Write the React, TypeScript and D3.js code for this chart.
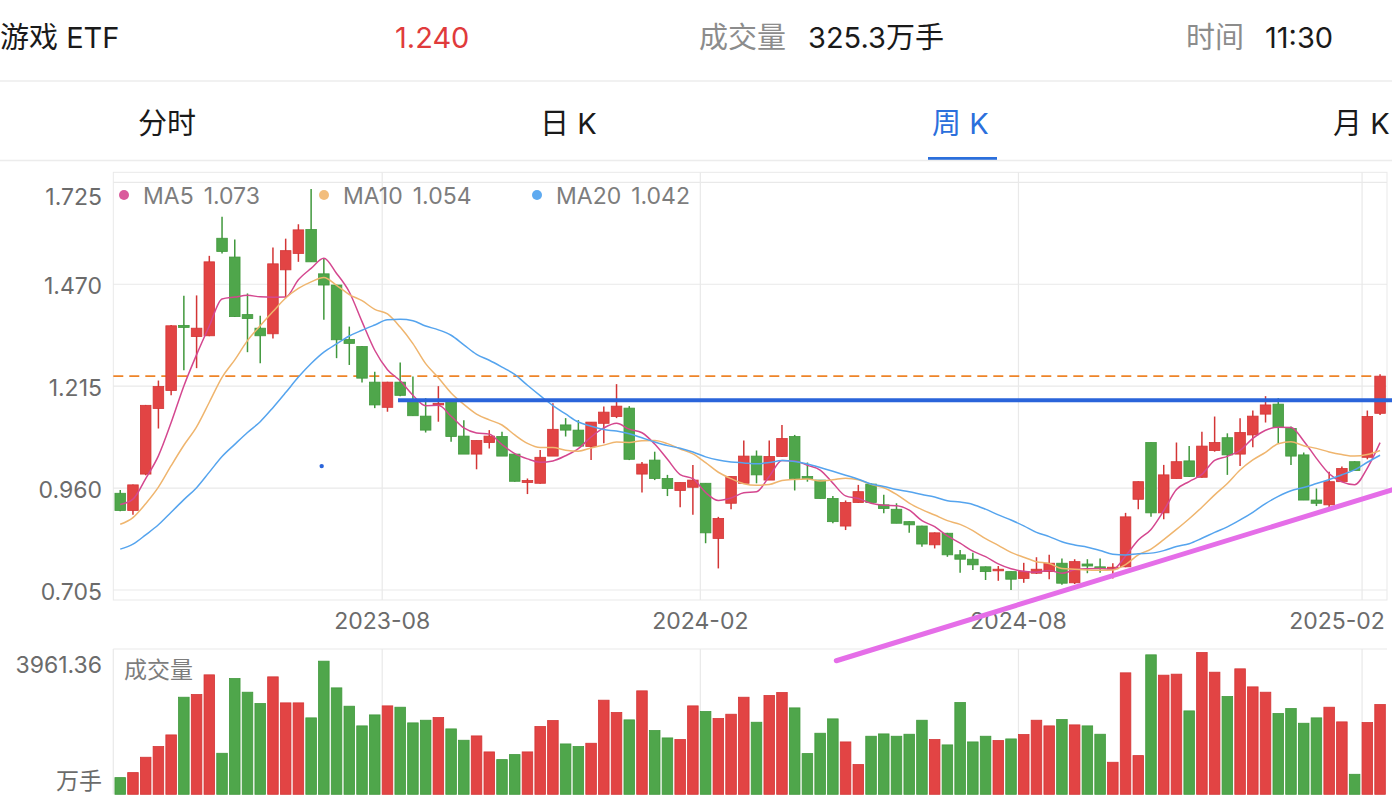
import React from "react";
import * as d3 from "d3";

// ---- data (weekly K, 游戏ETF) ----
const opens = [
  0.947, 0.904, 0.995, 1.159, 1.204, 1.367, 1.339, 1.341, 1.585, 1.538,
  1.394, 1.36, 1.346, 1.506, 1.547, 1.607, 1.496, 1.468, 1.332, 1.314,
  1.225, 1.162, 1.225, 1.18, 1.14, 1.168, 1.18, 1.09, 1.045, 1.074,
  1.089, 1.045, 0.974, 0.972, 1.04, 1.118, 1.105, 1.064, 1.122, 1.139,
  1.16, 0.995, 1.03, 0.984, 0.954, 0.962, 0.972, 0.834, 0.922, 0.972,
  1.04, 0.98, 1.039, 1.089, 0.989, 0.98, 0.934, 0.865, 0.924, 0.97,
  0.918, 0.907, 0.876, 0.865, 0.818, 0.847, 0.793, 0.782, 0.763, 0.753,
  0.751, 0.734, 0.747, 0.751, 0.772, 0.723, 0.77, 0.763, 0.758, 0.763,
  0.932, 1.074, 0.898, 0.984, 1.028, 0.987, 1.054, 1.086, 1.045, 1.093,
  1.145, 1.17, 1.109, 1.043, 0.93, 0.918, 0.976, 1.026, 1.037, 1.147,
];
const highs = [
  0.955, 0.969, 1.168, 1.229, 1.368, 1.441, 1.442, 1.541, 1.639, 1.582,
  1.447, 1.391, 1.562, 1.584, 1.62, 1.708, 1.535, 1.469, 1.364, 1.315,
  1.251, 1.226, 1.274, 1.239, 1.185, 1.215, 1.182, 1.13, 1.079, 1.105,
  1.101, 1.045, 0.984, 1.055, 1.172, 1.135, 1.13, 1.125, 1.164, 1.22,
  1.165, 1.025, 1.051, 0.993, 0.974, 1.018, 0.972, 0.888, 0.989, 1.079,
  1.054, 1.079, 1.118, 1.093, 1.024, 0.98, 0.94, 0.929, 0.968, 0.972,
  0.943, 0.922, 0.877, 0.866, 0.849, 0.848, 0.805, 0.798, 0.764, 0.765,
  0.751, 0.773, 0.787, 0.793, 0.784, 0.782, 0.782, 0.784, 0.772, 0.898,
  0.977, 1.074, 1.018, 1.074, 1.065, 1.101, 1.139, 1.097, 1.135, 1.154,
  1.19, 1.185, 1.114, 1.049, 0.959, 1.001, 1.014, 1.027, 1.154, 1.245,
];
const lows = [
  0.902, 0.893, 0.992, 1.109, 1.192, 1.255, 1.26, 1.34, 1.547, 1.388,
  1.3, 1.272, 1.334, 1.435, 1.526, 1.526, 1.381, 1.285, 1.268, 1.224,
  1.16, 1.151, 1.19, 1.141, 1.099, 1.126, 1.076, 1.045, 1.007, 1.059,
  1.04, 0.976, 0.945, 0.971, 1.04, 1.089, 1.065, 1.03, 1.072, 1.135,
  1.03, 0.949, 0.98, 0.94, 0.912, 0.893, 0.822, 0.759, 0.907, 0.97,
  0.972, 0.98, 1.038, 0.954, 0.976, 0.934, 0.872, 0.855, 0.923, 0.924,
  0.897, 0.872, 0.848, 0.813, 0.809, 0.788, 0.748, 0.755, 0.73, 0.728,
  0.705, 0.723, 0.745, 0.732, 0.718, 0.72, 0.747, 0.748, 0.734, 0.762,
  0.907, 0.888, 0.882, 0.984, 0.988, 0.986, 1.051, 0.993, 1.015, 1.062,
  1.124, 1.072, 1.018, 0.93, 0.915, 0.905, 0.975, 1.004, 1.032, 1.143,
];
const closes = [
  0.904, 0.968, 1.167, 1.214, 1.366, 1.362, 1.36, 1.526, 1.552, 1.389,
  1.384, 1.341, 1.521, 1.554, 1.606, 1.526, 1.468, 1.331, 1.322, 1.235,
  1.168, 1.225, 1.192, 1.141, 1.105, 1.172, 1.089, 1.045, 1.079, 1.09,
  1.04, 0.977, 0.979, 1.037, 1.107, 1.105, 1.065, 1.125, 1.15, 1.165,
  1.032, 1.02, 0.984, 0.959, 0.974, 0.98, 0.848, 0.884, 0.989, 1.04,
  0.993, 1.039, 1.084, 0.984, 0.984, 0.934, 0.876, 0.924, 0.951, 0.924,
  0.909, 0.872, 0.868, 0.82, 0.848, 0.793, 0.782, 0.768, 0.751, 0.757,
  0.732, 0.751, 0.757, 0.772, 0.722, 0.776, 0.765, 0.759, 0.762, 0.888,
  0.976, 0.898, 0.993, 1.026, 0.989, 1.065, 1.074, 1.043, 1.099, 1.14,
  1.168, 1.112, 1.04, 0.93, 0.922, 0.976, 1.009, 1.004, 1.139, 1.24,
];
// weekly closes before the visible window (estimated from the MA lines' start)
const priorCloses = [
  0.72, 0.7, 0.71, 0.74, 0.73, 0.76, 0.75, 0.77, 0.78, 0.79,
  0.8, 0.82, 0.8, 0.83, 0.85, 0.9, 0.91, 0.93, 0.95,
];
const volumes = [
  466, 606, 1035, 1333, 1659, 2712, 2787, 3337, 1146, 3234,
  2852, 2535, 3281, 2554, 2554, 2135, 3719, 2973, 2461, 1911,
  2218, 2470, 2433, 1995, 2069, 2144, 1827, 1510, 1631, 1184,
  969, 1109, 1184, 1892, 2060, 1407, 1333, 1426, 2629, 2284,
  2079, 2890, 1780, 1575, 1529, 2470, 2312, 2116, 2237, 2712,
  2013, 2759, 2843, 2414, 1137, 1706, 2107, 1463, 830, 1622,
  1687, 1622, 1678, 2069, 1529, 1380, 2563, 1463, 1622, 1501,
  1547, 1668, 2069, 1911, 2088, 1939, 1911, 1678, 895, 3393,
  1081, 3896, 3328, 3356, 2330, 3961.36, 3411, 2731, 3505, 3001,
  2852, 2256, 2395, 1985, 2135, 2433, 2023, 559, 2004, 2507,
];
const priceTicks = [1.725, 1.47, 1.215, 0.96, 0.705];
const priceTickLabels = ["1.725", "1.470", "1.215", "0.960", "0.705"];
const monthTickIndex = [21, 46, 71, 98];
const monthTickLabels = ["2023-08", "2024-02", "2024-08", "2025-02"];
const maPeriods = [5, 10, 20];
const maLabels = ["MA5", "MA10", "MA20"];
const maValues = ["1.073", "1.054", "1.042"];
const maColors = ["#d4478f", "#efb56e", "#55a4ee"];
const maDotColors = ["#da5a9c", "#f2bd7c", "#5eaaf0"];
const tabs = ["分时", "日 K", "周 K", "月 K"];
const lastPrice = 1.24;
const lastPriceText = "1.240";
const volumeText = "325.3万手";
const timeText = "11:30";
const volMaxLabel = "3961.36";
// user-drawn annotations (bar index, price)
const blueLine = { fromIdx: 21.83, toIdx: 101, price: 1.18 };
const trendLine = { fromIdx: 56.27, fromPrice: 0.528, toIdx: 100.9, toPrice: 0.965 };
const blueDot = { idx: 15.83, price: 1.015 };

const UP = "#e24444";
const UP_S = "#d33535";
const DOWN = "#4fa64b";
const DOWN_S = "#40983c";
const FONT = "Inter, 'Noto Sans CJK SC', sans-serif";

export default function App() {
  const W = 1392;
  const H = 806;
  const left = 113.3;
  const right = 1387;
  const pTop = 172.3;
  const pBottom = 600;
  const vTop = 649;
  const vBottom = 794.3;

  const idx = d3.range(closes.length);
  const x = d3
    .scaleBand<number>()
    .domain(idx)
    .range([left, right])
    .paddingInner(0.17)
    .paddingOuter(0.13);
  const bw = x.bandwidth();
  const step = x.step();
  const xAt = (i: number) => (x(0) as number) + bw / 2 + i * step;

  const y = d3.scaleLinear().domain([0.705, 1.725]).range([590, 182.3]);
  const yv = d3.scaleLinear().domain([0, 3961.36]).range([vBottom, 652.5]);

  const full = priorCloses.concat(closes);
  const off = priorCloses.length;
  const maSeries = maPeriods.map((n) =>
    idx.map((i) => d3.mean(full.slice(i + off - n + 1, i + off + 1)) as number)
  );
  const line = d3
    .line<number>()
    .x((_, i) => xAt(i))
    .y((d) => y(d))
    .curve(d3.curveMonotoneX);

  const grid = "#e9e9e9";
  const tickFs = 23;

  return (
    <div style={{ position: "absolute", left: 0, top: 0 }}>
      <svg width={W} height={H} style={{ display: "block", fontFamily: FONT }}>
        <rect width={W} height={H} fill="#fff" />
        {/* header */}
        <g fontSize={29} dominantBaseline="central">
          <text x={0} y={37} fill="#1a1a1a">游戏 ETF</text>
          <text x={395} y={37} fill="#e03b3b">{lastPriceText}</text>
          <text x={699} y={37} fill="#8c8c8c">成交量</text>
          <text x={808} y={37} fill="#1a1a1a">{volumeText}</text>
          <text x={1186} y={37} fill="#8c8c8c">时间</text>
          <text x={1265} y={37} fill="#1a1a1a">{timeText}</text>
        </g>
        <line x1={0} x2={W} y1={81} y2={81} stroke="#ececec" strokeWidth={1.5} />
        <g fontSize={29} dominantBaseline="central">
          {tabs.map((t, i) => (
            <text
              key={t}
              x={[138, 540, 932, 1333][i]}
              y={123}
              fill={i === 2 ? "#2b6fdc" : "#1a1a1a"}
            >
              {t}
            </text>
          ))}
        </g>
        <rect x={928} y={157} width={69} height={3} fill="#2b6fdc" />
        <line x1={0} x2={W} y1={160.5} y2={160.5} stroke="#ececec" strokeWidth={1.5} />

        {/* price panel frame & grid */}
        <rect x={left} y={pTop} width={right - left} height={pBottom - pTop} fill="none" stroke={grid} />
        {priceTicks.map((p) => (
          <line key={p} x1={left} x2={right} y1={y(p)} y2={y(p)} stroke={grid} strokeWidth={1.2} />
        ))}
        {monthTickIndex.map((i) => (
          <line key={i} x1={x(i)} x2={x(i)} y1={pTop} y2={pBottom} stroke={grid} strokeWidth={1.2} />
        ))}
        <g fontSize={tickFs} fill="#6b6b6b" textAnchor="end" dominantBaseline="central">
          {priceTicks.map((p, i) => (
            <text key={p} x={102} y={i === 0 ? 197 : y(p) + 2}>
              {priceTickLabels[i]}
            </text>
          ))}
        </g>
        <g fontSize={tickFs} fill="#6b6b6b" textAnchor="middle" dominantBaseline="central">
          {monthTickIndex.map((i, k) => (
            <text
              key={i}
              x={k === monthTickIndex.length - 1 ? 1337 : (x(i) as number)}
              y={621}
            >
              {monthTickLabels[k]}
            </text>
          ))}
        </g>

        {/* last price dashed line */}
        <line
          x1={left}
          x2={x(99)}
          y1={y(lastPrice)}
          y2={y(lastPrice)}
          stroke="#ee8428"
          strokeWidth={1.6}
          strokeDasharray="10 6"
        />

        {/* candles */}
        {idx.map((i) => {
          const o = opens[i];
          const c = closes[i];
          const up = c >= o;
          const top = y(Math.max(o, c));
          const h = Math.max(1.5, y(Math.min(o, c)) - top);
          const cx = xAt(i);
          return (
            <g key={i}>
              <line
                x1={cx}
                x2={cx}
                y1={y(highs[i])}
                y2={y(lows[i])}
                stroke={up ? UP_S : DOWN_S}
                strokeWidth={1.5}
              />
              <rect
                x={x(i)}
                y={top}
                width={bw}
                height={h}
                fill={up ? UP : DOWN}
                stroke={up ? UP_S : DOWN_S}
                strokeWidth={0.8}
              />
            </g>
          );
        })}

        {/* moving averages */}
        {maSeries.map((s, k) => (
          <path key={k} d={line(s) || ""} fill="none" stroke={maColors[k]} strokeWidth={1.5} />
        ))}

        {/* legend */}
        <g fontSize={tickFs} fill="#7d7d7d" dominantBaseline="central">
          {maLabels.map((m, k) => (
            <g key={m}>
              <circle cx={[124, 324, 537][k]} cy={195} r={5} fill={maDotColors[k]} />
              <text x={[143, 343, 556][k]} y={196}>
                {m}
                <tspan dx={10}>{maValues[k]}</tspan>
              </text>
            </g>
          ))}
        </g>

        {/* annotations */}
        <line
          x1={xAt(blueLine.fromIdx)}
          x2={xAt(blueLine.toIdx)}
          y1={y(blueLine.price)}
          y2={y(blueLine.price)}
          stroke="#2a64da"
          strokeWidth={4}
        />
        <circle cx={xAt(blueDot.idx)} cy={y(blueDot.price)} r={2.2} fill="#2a64da" />

        {/* volume panel */}
        <line x1={left} x2={right} y1={vTop} y2={vTop} stroke={grid} strokeWidth={1.2} />
        <line x1={left} x2={left} y1={vTop} y2={vBottom} stroke={grid} strokeWidth={1.2} />
        {monthTickIndex.map((i) => (
          <line key={i} x1={x(i)} x2={x(i)} y1={vTop} y2={vBottom} stroke={grid} strokeWidth={1.2} />
        ))}
        {idx.map((i) => {
          const up = closes[i] >= opens[i];
          return (
            <rect
              key={i}
              x={x(i)}
              y={yv(volumes[i])}
              width={bw}
              height={vBottom - yv(volumes[i])}
              fill={up ? UP : DOWN}
              stroke={up ? UP_S : DOWN_S}
              strokeWidth={0.8}
            />
          );
        })}
        <g fontSize={tickFs} fill="#6b6b6b" dominantBaseline="central">
          <text x={102} y={665} textAnchor="end">{volMaxLabel}</text>
          <text x={102} y={781} textAnchor="end">万手</text>
          <text x={124} y={670} fill="#7d7d7d">成交量</text>
        </g>

        {/* trend line */}
        <line
          x1={xAt(trendLine.fromIdx)}
          x2={xAt(trendLine.toIdx)}
          y1={y(trendLine.fromPrice)}
          y2={y(trendLine.toPrice)}
          stroke="#e56ee8"
          strokeWidth={5}
          strokeLinecap="round"
        />
      </svg>
    </div>
  );
}
